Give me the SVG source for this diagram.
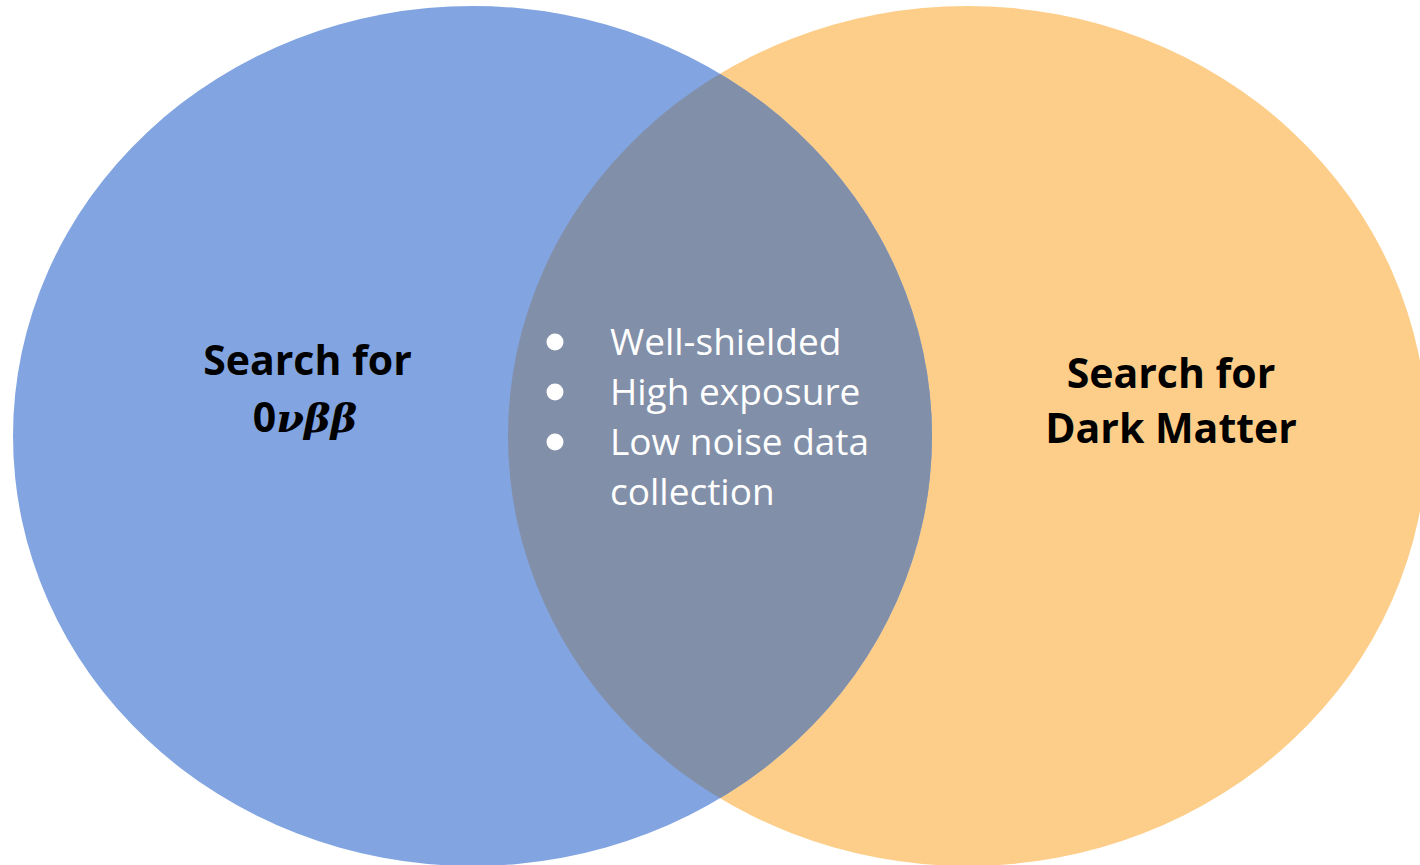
<svg xmlns="http://www.w3.org/2000/svg" width="1420" height="865" viewBox="0 0 1420 865">
<style>
.title{font-family:"Open Sans","Liberation Sans",sans-serif;font-weight:bold;font-size:41px;fill:#000;text-anchor:middle}
.math{font-family:"DejaVu Serif","Liberation Serif",serif;font-style:italic;font-weight:bold;font-size:40px}
.item{font-family:"Open Sans","Liberation Sans",sans-serif;font-size:37px;fill:#fff}
</style>
<defs>
<clipPath id="clipR"><ellipse cx="967.5" cy="436" rx="459.5" ry="430"/></clipPath>
</defs>
<g id="set-dark-matter"><ellipse cx="967.5" cy="436" rx="459.5" ry="430" fill="#FDCE89"/></g>
<g id="set-0vbb"><ellipse cx="472.5" cy="436" rx="459.5" ry="430" fill="#82A5E1"/></g>
<g id="overlap"><ellipse cx="472.5" cy="436" rx="459.5" ry="430" fill="#828FA8" clip-path="url(#clipR)"/></g>
<g id="label-0vbb">
<text class="title" x="307.5" y="375">Search for</text>
<text class="title" x="305" y="432">0<tspan class="math">νββ</tspan></text>
</g>
<g id="label-dm">
<text class="title" x="1171" y="388">Search for</text>
<text class="title" x="1171" y="443">Dark Matter</text>
</g>
<g id="shared">
<circle cx="555" cy="342" r="8.5" fill="#fff"/>
<circle cx="555" cy="392" r="8.5" fill="#fff"/>
<circle cx="555" cy="442" r="8.5" fill="#fff"/>
<text class="item" x="610" y="355">Well-shielded</text>
<text class="item" x="610" y="405">High exposure</text>
<text class="item" x="610" y="455">Low noise data</text>
<text class="item" x="610" y="505">collection</text>
</g>
</svg>
